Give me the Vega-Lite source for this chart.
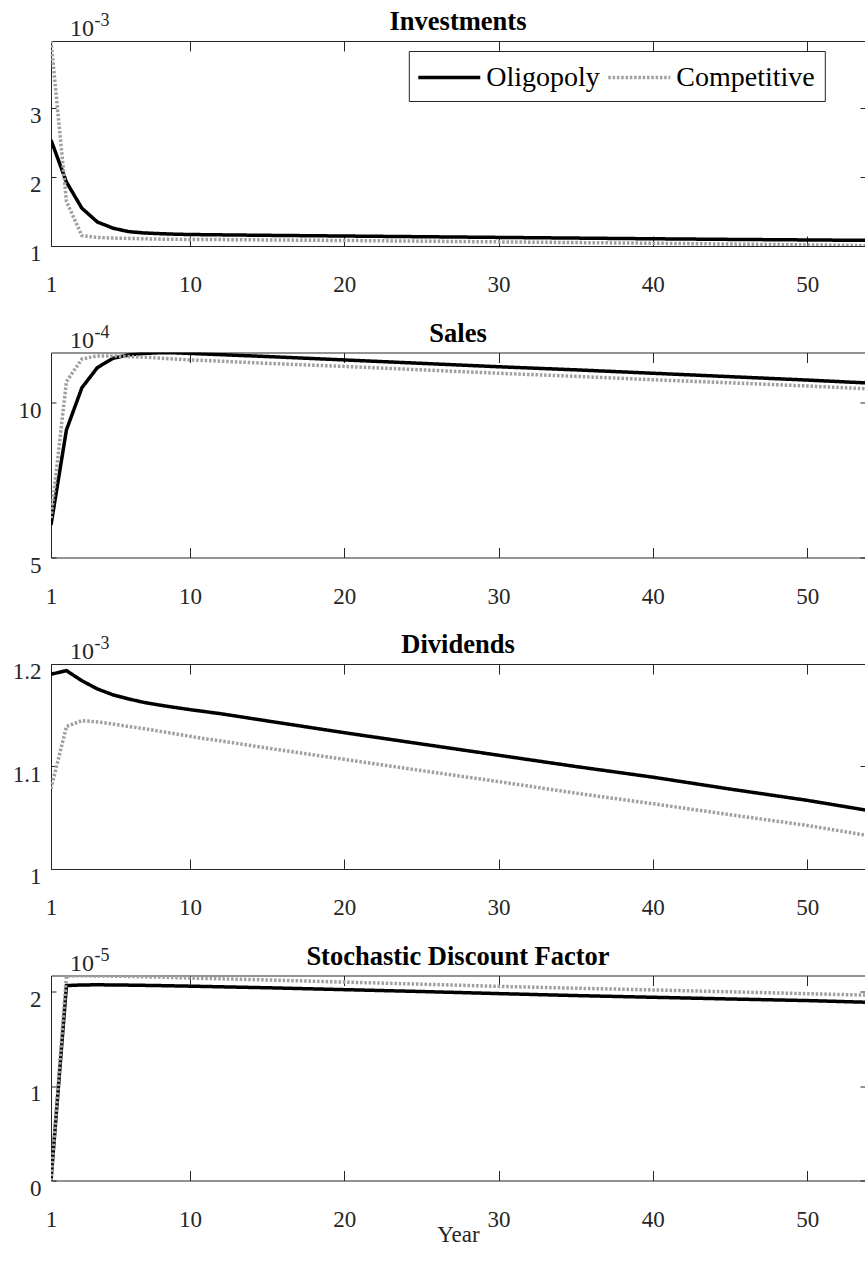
{
  "$schema": "https://vega.github.io/schema/vega-lite/v6.json",
  "background": "white",
  "padding": {"left": 12, "top": 9, "right": 0, "bottom": 5},
  "bounds": "flush",
  "spacing": 106.5,
  "config": {
    "view": {"stroke": null},
    "font": "Liberation Serif",
    "axis": {
      "labelFont": "Liberation Serif", "labelFontSize": 23, "labelColor": "#262626",
      "domainColor": "#262626", "tickColor": "#262626", "grid": false,
      "domainWidth": 1, "tickWidth": 1, "labelFlush": false, "labelOverlap": false,
      "titleFont": "Liberation Serif", "titleFontWeight": "normal", "titleColor": "#262626"
    },
    "title": {"font": "Liberation Serif", "fontSize": 26.5, "fontWeight": "bold", "color": "black", "baseline": "alphabetic", "offset": -24, "anchor": "middle"}
  },
  "datasets": {
    "d": [
      {"panel": "inv", "series": "Oligopoly", "year": 1, "value": 2.54},
      {"panel": "inv", "series": "Oligopoly", "year": 2, "value": 1.93},
      {"panel": "inv", "series": "Oligopoly", "year": 3, "value": 1.55},
      {"panel": "inv", "series": "Oligopoly", "year": 4, "value": 1.35},
      {"panel": "inv", "series": "Oligopoly", "year": 5, "value": 1.26},
      {"panel": "inv", "series": "Oligopoly", "year": 6, "value": 1.21},
      {"panel": "inv", "series": "Oligopoly", "year": 7, "value": 1.19},
      {"panel": "inv", "series": "Oligopoly", "year": 8, "value": 1.18},
      {"panel": "inv", "series": "Oligopoly", "year": 9, "value": 1.172},
      {"panel": "inv", "series": "Oligopoly", "year": 10, "value": 1.167},
      {"panel": "inv", "series": "Oligopoly", "year": 12, "value": 1.162},
      {"panel": "inv", "series": "Oligopoly", "year": 15, "value": 1.155},
      {"panel": "inv", "series": "Oligopoly", "year": 20, "value": 1.145},
      {"panel": "inv", "series": "Oligopoly", "year": 25, "value": 1.135},
      {"panel": "inv", "series": "Oligopoly", "year": 30, "value": 1.125},
      {"panel": "inv", "series": "Oligopoly", "year": 35, "value": 1.115},
      {"panel": "inv", "series": "Oligopoly", "year": 40, "value": 1.105},
      {"panel": "inv", "series": "Oligopoly", "year": 45, "value": 1.096},
      {"panel": "inv", "series": "Oligopoly", "year": 50, "value": 1.088},
      {"panel": "inv", "series": "Oligopoly", "year": 55, "value": 1.08},
      {"panel": "inv", "series": "Competitive", "year": 1, "value": 3.98},
      {"panel": "inv", "series": "Competitive", "year": 2, "value": 1.65},
      {"panel": "inv", "series": "Competitive", "year": 3, "value": 1.15},
      {"panel": "inv", "series": "Competitive", "year": 4, "value": 1.125},
      {"panel": "inv", "series": "Competitive", "year": 5, "value": 1.115},
      {"panel": "inv", "series": "Competitive", "year": 6, "value": 1.11},
      {"panel": "inv", "series": "Competitive", "year": 7, "value": 1.105},
      {"panel": "inv", "series": "Competitive", "year": 8, "value": 1.1},
      {"panel": "inv", "series": "Competitive", "year": 10, "value": 1.095},
      {"panel": "inv", "series": "Competitive", "year": 12, "value": 1.093},
      {"panel": "inv", "series": "Competitive", "year": 15, "value": 1.088},
      {"panel": "inv", "series": "Competitive", "year": 20, "value": 1.08},
      {"panel": "inv", "series": "Competitive", "year": 25, "value": 1.07},
      {"panel": "inv", "series": "Competitive", "year": 30, "value": 1.06},
      {"panel": "inv", "series": "Competitive", "year": 35, "value": 1.05},
      {"panel": "inv", "series": "Competitive", "year": 40, "value": 1.04},
      {"panel": "inv", "series": "Competitive", "year": 45, "value": 1.028},
      {"panel": "inv", "series": "Competitive", "year": 50, "value": 1.016},
      {"panel": "inv", "series": "Competitive", "year": 55, "value": 1.004},

      {"panel": "sales", "series": "Oligopoly", "year": 1, "value": 6.05},
      {"panel": "sales", "series": "Oligopoly", "year": 2, "value": 9.12},
      {"panel": "sales", "series": "Oligopoly", "year": 3, "value": 10.48},
      {"panel": "sales", "series": "Oligopoly", "year": 4, "value": 11.13},
      {"panel": "sales", "series": "Oligopoly", "year": 5, "value": 11.43},
      {"panel": "sales", "series": "Oligopoly", "year": 6, "value": 11.54},
      {"panel": "sales", "series": "Oligopoly", "year": 7, "value": 11.59},
      {"panel": "sales", "series": "Oligopoly", "year": 8, "value": 11.61},
      {"panel": "sales", "series": "Oligopoly", "year": 9, "value": 11.61},
      {"panel": "sales", "series": "Oligopoly", "year": 10, "value": 11.59},
      {"panel": "sales", "series": "Oligopoly", "year": 12, "value": 11.55},
      {"panel": "sales", "series": "Oligopoly", "year": 15, "value": 11.49},
      {"panel": "sales", "series": "Oligopoly", "year": 20, "value": 11.38},
      {"panel": "sales", "series": "Oligopoly", "year": 25, "value": 11.27},
      {"panel": "sales", "series": "Oligopoly", "year": 30, "value": 11.16},
      {"panel": "sales", "series": "Oligopoly", "year": 35, "value": 11.06},
      {"panel": "sales", "series": "Oligopoly", "year": 40, "value": 10.95},
      {"panel": "sales", "series": "Oligopoly", "year": 45, "value": 10.84},
      {"panel": "sales", "series": "Oligopoly", "year": 50, "value": 10.73},
      {"panel": "sales", "series": "Oligopoly", "year": 55, "value": 10.61},
      {"panel": "sales", "series": "Competitive", "year": 1, "value": 6.27},
      {"panel": "sales", "series": "Competitive", "year": 2, "value": 10.68},
      {"panel": "sales", "series": "Competitive", "year": 3, "value": 11.41},
      {"panel": "sales", "series": "Competitive", "year": 4, "value": 11.51},
      {"panel": "sales", "series": "Competitive", "year": 5, "value": 11.51},
      {"panel": "sales", "series": "Competitive", "year": 6, "value": 11.49},
      {"panel": "sales", "series": "Competitive", "year": 7, "value": 11.47},
      {"panel": "sales", "series": "Competitive", "year": 8, "value": 11.44},
      {"panel": "sales", "series": "Competitive", "year": 9, "value": 11.41},
      {"panel": "sales", "series": "Competitive", "year": 10, "value": 11.38},
      {"panel": "sales", "series": "Competitive", "year": 12, "value": 11.34},
      {"panel": "sales", "series": "Competitive", "year": 15, "value": 11.27},
      {"panel": "sales", "series": "Competitive", "year": 20, "value": 11.17},
      {"panel": "sales", "series": "Competitive", "year": 25, "value": 11.06},
      {"panel": "sales", "series": "Competitive", "year": 30, "value": 10.95},
      {"panel": "sales", "series": "Competitive", "year": 35, "value": 10.85},
      {"panel": "sales", "series": "Competitive", "year": 40, "value": 10.74},
      {"panel": "sales", "series": "Competitive", "year": 45, "value": 10.64},
      {"panel": "sales", "series": "Competitive", "year": 50, "value": 10.54},
      {"panel": "sales", "series": "Competitive", "year": 55, "value": 10.42},

      {"panel": "div", "series": "Oligopoly", "year": 1, "value": 1.19},
      {"panel": "div", "series": "Oligopoly", "year": 2, "value": 1.1935},
      {"panel": "div", "series": "Oligopoly", "year": 3, "value": 1.1837},
      {"panel": "div", "series": "Oligopoly", "year": 4, "value": 1.1757},
      {"panel": "div", "series": "Oligopoly", "year": 5, "value": 1.17},
      {"panel": "div", "series": "Oligopoly", "year": 6, "value": 1.166},
      {"panel": "div", "series": "Oligopoly", "year": 7, "value": 1.1626},
      {"panel": "div", "series": "Oligopoly", "year": 8, "value": 1.16},
      {"panel": "div", "series": "Oligopoly", "year": 9, "value": 1.1577},
      {"panel": "div", "series": "Oligopoly", "year": 10, "value": 1.1555},
      {"panel": "div", "series": "Oligopoly", "year": 11, "value": 1.1535},
      {"panel": "div", "series": "Oligopoly", "year": 12, "value": 1.1515},
      {"panel": "div", "series": "Oligopoly", "year": 15, "value": 1.1445},
      {"panel": "div", "series": "Oligopoly", "year": 20, "value": 1.133},
      {"panel": "div", "series": "Oligopoly", "year": 25, "value": 1.122},
      {"panel": "div", "series": "Oligopoly", "year": 30, "value": 1.111},
      {"panel": "div", "series": "Oligopoly", "year": 35, "value": 1.1},
      {"panel": "div", "series": "Oligopoly", "year": 40, "value": 1.0896},
      {"panel": "div", "series": "Oligopoly", "year": 45, "value": 1.078},
      {"panel": "div", "series": "Oligopoly", "year": 50, "value": 1.067},
      {"panel": "div", "series": "Oligopoly", "year": 55, "value": 1.0545},
      {"panel": "div", "series": "Competitive", "year": 1, "value": 1.0783},
      {"panel": "div", "series": "Competitive", "year": 2, "value": 1.139},
      {"panel": "div", "series": "Competitive", "year": 3, "value": 1.1448},
      {"panel": "div", "series": "Competitive", "year": 4, "value": 1.1435},
      {"panel": "div", "series": "Competitive", "year": 5, "value": 1.1415},
      {"panel": "div", "series": "Competitive", "year": 6, "value": 1.139},
      {"panel": "div", "series": "Competitive", "year": 7, "value": 1.137},
      {"panel": "div", "series": "Competitive", "year": 8, "value": 1.1345},
      {"panel": "div", "series": "Competitive", "year": 9, "value": 1.132},
      {"panel": "div", "series": "Competitive", "year": 10, "value": 1.1295},
      {"panel": "div", "series": "Competitive", "year": 11, "value": 1.127},
      {"panel": "div", "series": "Competitive", "year": 12, "value": 1.125},
      {"panel": "div", "series": "Competitive", "year": 15, "value": 1.118},
      {"panel": "div", "series": "Competitive", "year": 20, "value": 1.107},
      {"panel": "div", "series": "Competitive", "year": 25, "value": 1.096},
      {"panel": "div", "series": "Competitive", "year": 30, "value": 1.0853},
      {"panel": "div", "series": "Competitive", "year": 35, "value": 1.074},
      {"panel": "div", "series": "Competitive", "year": 40, "value": 1.0637},
      {"panel": "div", "series": "Competitive", "year": 45, "value": 1.053},
      {"panel": "div", "series": "Competitive", "year": 50, "value": 1.0425},
      {"panel": "div", "series": "Competitive", "year": 55, "value": 1.03},

      {"panel": "sdf", "series": "Oligopoly", "year": 1, "value": 0},
      {"panel": "sdf", "series": "Oligopoly", "year": 2, "value": 2.068},
      {"panel": "sdf", "series": "Oligopoly", "year": 3, "value": 2.075},
      {"panel": "sdf", "series": "Oligopoly", "year": 4, "value": 2.076},
      {"panel": "sdf", "series": "Oligopoly", "year": 5, "value": 2.075},
      {"panel": "sdf", "series": "Oligopoly", "year": 6, "value": 2.073},
      {"panel": "sdf", "series": "Oligopoly", "year": 8, "value": 2.068},
      {"panel": "sdf", "series": "Oligopoly", "year": 10, "value": 2.062},
      {"panel": "sdf", "series": "Oligopoly", "year": 12, "value": 2.055},
      {"panel": "sdf", "series": "Oligopoly", "year": 15, "value": 2.045},
      {"panel": "sdf", "series": "Oligopoly", "year": 20, "value": 2.025},
      {"panel": "sdf", "series": "Oligopoly", "year": 25, "value": 2.005},
      {"panel": "sdf", "series": "Oligopoly", "year": 30, "value": 1.983},
      {"panel": "sdf", "series": "Oligopoly", "year": 35, "value": 1.962},
      {"panel": "sdf", "series": "Oligopoly", "year": 40, "value": 1.944},
      {"panel": "sdf", "series": "Oligopoly", "year": 45, "value": 1.926},
      {"panel": "sdf", "series": "Oligopoly", "year": 50, "value": 1.909},
      {"panel": "sdf", "series": "Oligopoly", "year": 55, "value": 1.886},
      {"panel": "sdf", "series": "Competitive", "year": 1, "value": 0},
      {"panel": "sdf", "series": "Competitive", "year": 2, "value": 2.17},
      {"panel": "sdf", "series": "Competitive", "year": 3, "value": 2.172},
      {"panel": "sdf", "series": "Competitive", "year": 4, "value": 2.17},
      {"panel": "sdf", "series": "Competitive", "year": 5, "value": 2.168},
      {"panel": "sdf", "series": "Competitive", "year": 6, "value": 2.165},
      {"panel": "sdf", "series": "Competitive", "year": 8, "value": 2.158},
      {"panel": "sdf", "series": "Competitive", "year": 10, "value": 2.148},
      {"panel": "sdf", "series": "Competitive", "year": 12, "value": 2.14},
      {"panel": "sdf", "series": "Competitive", "year": 15, "value": 2.128},
      {"panel": "sdf", "series": "Competitive", "year": 20, "value": 2.105},
      {"panel": "sdf", "series": "Competitive", "year": 25, "value": 2.083},
      {"panel": "sdf", "series": "Competitive", "year": 30, "value": 2.06},
      {"panel": "sdf", "series": "Competitive", "year": 35, "value": 2.04},
      {"panel": "sdf", "series": "Competitive", "year": 40, "value": 2.022},
      {"panel": "sdf", "series": "Competitive", "year": 45, "value": 2.002},
      {"panel": "sdf", "series": "Competitive", "year": 50, "value": 1.982},
      {"panel": "sdf", "series": "Competitive", "year": 55, "value": 1.962}
    ]
  },
  "data": {"name": "d"},
  "resolve": {"scale": {"x": "independent", "y": "independent", "color": "independent", "strokeDash": "independent"}, "legend": {"color": "independent", "strokeDash": "independent"}},
  "vconcat": [
    {
      "width": 814, "height": 205,
      "title": "Investments",
      "transform": [{"filter": "datum.panel === 'inv'"}],
      "layer": [
        {
          "transform": [{"filter": "datum.series === 'Oligopoly'"}],
          "mark": {"type": "line", "clip": true, "strokeWidth": 3.5},
          "encoding": {
            "x": {"field": "year", "type": "quantitative", "scale": {"domain": [1, 53.75], "nice": false, "zero": false},
                  "axis": {"orient": "bottom", "values": [1, 10, 20, 30, 40, 50], "labelExpr": "'' + datum.value", "tickSize": -10, "labelPadding": 37.8, "title": null, "labelFont": "Liberation Serif", "labelFontSize": 23, "labelColor": "#262626", "labelFlush": false}},
            "y": {"field": "value", "type": "quantitative", "scale": {"domain": [1, 3.98], "nice": false, "zero": false},
                  "axis": {"orient": "left", "values": [1, 2, 3], "labelExpr": "'' + datum.value", "tickSize": -5, "labelPadding": 15, "labelBaseline": "middle", "labelOffset": 7.5, "labelFont": "Liberation Serif", "labelFontSize": 23, "labelColor": "#262626",
                           "title": "10", "titleFont": "Liberation Serif", "titleFontWeight": "normal", "titleColor": "#262626", "titleAngle": 0, "titleX": 18.5, "titleY": -5.5, "titleAlign": "left", "titleBaseline": "alphabetic", "titleFontSize": 24}},
            "color": {"field": "series", "type": "nominal", "scale": {"domain": ["Oligopoly", "Competitive"], "range": ["#000000", "#a0a0a0"]},
                      "legend": {"orient": "none", "legendX": 357.8, "legendY": 10, "direction": "horizontal", "title": null, "symbolType": "M-1.115,0H2.95", "symbolSize": 930, "symbolStrokeWidth": 3.5, "labelFont": "Liberation Serif", "labelFontSize": 28, "labelColor": "black", "labelOffset": 34, "columnPadding": 0, "padding": 9.5, "strokeColor": "#262626", "fillColor": "white", "labelLimit": 400}},
            "strokeDash": {"field": "series", "type": "nominal", "scale": {"domain": ["Oligopoly", "Competitive"], "range": [[1, 0], [2.5, 1.8]]},
                      "legend": {"orient": "none", "legendX": 357.8, "legendY": 10, "direction": "horizontal", "title": null, "symbolType": "M-1.115,0H2.95", "symbolSize": 930, "symbolStrokeWidth": 3.5, "labelFont": "Liberation Serif", "labelFontSize": 28, "labelColor": "black", "labelOffset": 34, "columnPadding": 0, "padding": 9.5, "strokeColor": "#262626", "fillColor": "white", "labelLimit": 400}}
          }
        },
        {
          "transform": [{"filter": "datum.series === 'Competitive'"}],
          "mark": {"type": "line", "clip": true, "strokeWidth": 3.5},
          "encoding": {
            "x": {"field": "year", "type": "quantitative", "axis": {"orient": "top", "values": [1, 10, 20, 30, 40, 50], "tickSize": -10, "labels": false, "title": null}},
            "y": {"field": "value", "type": "quantitative", "axis": {"orient": "right", "values": [1, 2, 3], "tickSize": -5, "labels": false, "domain": false,
                  "title": "-3", "titleFont": "Liberation Serif", "titleFontWeight": "normal", "titleColor": "#262626", "titleAngle": 0, "titleX": -771, "titleY": -15.5, "titleAlign": "left", "titleBaseline": "alphabetic", "titleFontSize": 18}},
            "color": {"field": "series", "type": "nominal"},
            "strokeDash": {"field": "series", "type": "nominal"}
          }
        }
      ],
      "resolve": {"axis": {"x": "independent", "y": "independent"}}
    },
    {
      "width": 814, "height": 205,
      "title": "Sales",
      "transform": [{"filter": "datum.panel === 'sales'"}],
      "layer": [
        {
          "transform": [{"filter": "datum.series === 'Oligopoly'"}],
          "mark": {"type": "line", "clip": true, "strokeWidth": 3.5},
          "encoding": {
            "x": {"field": "year", "type": "quantitative", "scale": {"domain": [1, 53.75], "nice": false, "zero": false},
                  "axis": {"orient": "bottom", "values": [1, 10, 20, 30, 40, 50], "labelExpr": "'' + datum.value", "tickSize": -10, "labelPadding": 37.8, "title": null, "labelFont": "Liberation Serif", "labelFontSize": 23, "labelColor": "#262626", "labelFlush": false}},
            "y": {"field": "value", "type": "quantitative", "scale": {"domain": [5, 11.62], "nice": false, "zero": false},
                  "axis": {"orient": "left", "values": [5, 10], "labelExpr": "'' + datum.value", "tickSize": -5, "labelPadding": 15, "labelBaseline": "middle", "labelOffset": 7.5, "labelFont": "Liberation Serif", "labelFontSize": 23, "labelColor": "#262626",
                           "title": "10", "titleFont": "Liberation Serif", "titleFontWeight": "normal", "titleColor": "#262626", "titleAngle": 0, "titleX": 18.5, "titleY": -5.5, "titleAlign": "left", "titleBaseline": "alphabetic", "titleFontSize": 24}},
            "color": {"field": "series", "type": "nominal", "scale": {"domain": ["Oligopoly", "Competitive"], "range": ["#000000", "#a0a0a0"]}, "legend": null},
            "strokeDash": {"field": "series", "type": "nominal", "scale": {"domain": ["Oligopoly", "Competitive"], "range": [[1, 0], [2.5, 1.8]]}, "legend": null}
          }
        },
        {
          "transform": [{"filter": "datum.series === 'Competitive'"}],
          "mark": {"type": "line", "clip": true, "strokeWidth": 3.5},
          "encoding": {
            "x": {"field": "year", "type": "quantitative", "axis": {"orient": "top", "values": [1, 10, 20, 30, 40, 50], "tickSize": -10, "labels": false, "title": null}},
            "y": {"field": "value", "type": "quantitative", "axis": {"orient": "right", "values": [5, 10], "tickSize": -5, "labels": false, "domain": false,
                  "title": "-4", "titleFont": "Liberation Serif", "titleFontWeight": "normal", "titleColor": "#262626", "titleAngle": 0, "titleX": -771, "titleY": -15.5, "titleAlign": "left", "titleBaseline": "alphabetic", "titleFontSize": 18}},
            "color": {"field": "series", "type": "nominal", "legend": null},
            "strokeDash": {"field": "series", "type": "nominal", "legend": null}
          }
        }
      ],
      "resolve": {"axis": {"x": "independent", "y": "independent"}}
    },
    {
      "width": 814, "height": 205,
      "title": "Dividends",
      "transform": [{"filter": "datum.panel === 'div'"}],
      "layer": [
        {
          "transform": [{"filter": "datum.series === 'Oligopoly'"}],
          "mark": {"type": "line", "clip": true, "strokeWidth": 3.5},
          "encoding": {
            "x": {"field": "year", "type": "quantitative", "scale": {"domain": [1, 53.75], "nice": false, "zero": false},
                  "axis": {"orient": "bottom", "values": [1, 10, 20, 30, 40, 50], "labelExpr": "'' + datum.value", "tickSize": -10, "labelPadding": 37.8, "title": null, "labelFont": "Liberation Serif", "labelFontSize": 23, "labelColor": "#262626", "labelFlush": false}},
            "y": {"field": "value", "type": "quantitative", "scale": {"domain": [1, 1.2], "nice": false, "zero": false},
                  "axis": {"orient": "left", "values": [1, 1.1, 1.2], "labelExpr": "'' + datum.value", "tickSize": -5, "labelPadding": 15, "labelBaseline": "middle", "labelOffset": 7.5, "labelFont": "Liberation Serif", "labelFontSize": 23, "labelColor": "#262626",
                           "title": "10", "titleFont": "Liberation Serif", "titleFontWeight": "normal", "titleColor": "#262626", "titleAngle": 0, "titleX": 18.5, "titleY": -5.5, "titleAlign": "left", "titleBaseline": "alphabetic", "titleFontSize": 24}},
            "color": {"field": "series", "type": "nominal", "scale": {"domain": ["Oligopoly", "Competitive"], "range": ["#000000", "#a0a0a0"]}, "legend": null},
            "strokeDash": {"field": "series", "type": "nominal", "scale": {"domain": ["Oligopoly", "Competitive"], "range": [[1, 0], [2.5, 1.8]]}, "legend": null}
          }
        },
        {
          "transform": [{"filter": "datum.series === 'Competitive'"}],
          "mark": {"type": "line", "clip": true, "strokeWidth": 3.5},
          "encoding": {
            "x": {"field": "year", "type": "quantitative", "axis": {"orient": "top", "values": [1, 10, 20, 30, 40, 50], "tickSize": -10, "labels": false, "title": null}},
            "y": {"field": "value", "type": "quantitative", "axis": {"orient": "right", "values": [1, 1.1, 1.2], "tickSize": -5, "labels": false, "domain": false,
                  "title": "-3", "titleFont": "Liberation Serif", "titleFontWeight": "normal", "titleColor": "#262626", "titleAngle": 0, "titleX": -771, "titleY": -15.5, "titleAlign": "left", "titleBaseline": "alphabetic", "titleFontSize": 18}},
            "color": {"field": "series", "type": "nominal", "legend": null},
            "strokeDash": {"field": "series", "type": "nominal", "legend": null}
          }
        }
      ],
      "resolve": {"axis": {"x": "independent", "y": "independent"}}
    },
    {
      "width": 814, "height": 205,
      "title": "Stochastic Discount Factor",
      "transform": [{"filter": "datum.panel === 'sdf'"}],
      "layer": [
        {
          "transform": [{"filter": "datum.series === 'Oligopoly'"}],
          "mark": {"type": "line", "clip": true, "strokeWidth": 3.5},
          "encoding": {
            "x": {"field": "year", "type": "quantitative", "scale": {"domain": [1, 53.75], "nice": false, "zero": false},
                  "axis": {"orient": "bottom", "values": [1, 10, 20, 30, 40, 50], "labelExpr": "'' + datum.value", "tickSize": -10, "labelPadding": 37.8, "labelFont": "Liberation Serif", "labelFontSize": 23, "labelColor": "#262626", "labelFlush": false,
                           "title": "Year", "titleFont": "Liberation Serif", "titleFontWeight": "normal", "titleColor": "#262626", "titleFontSize": 23, "titleY": 61, "titleBaseline": "alphabetic"}},
            "y": {"field": "value", "type": "quantitative", "scale": {"domain": [0, 2.175], "nice": false, "zero": false},
                  "axis": {"orient": "left", "values": [0, 1, 2], "labelExpr": "'' + datum.value", "tickSize": -5, "labelPadding": 15, "labelBaseline": "middle", "labelOffset": 7.5, "labelFont": "Liberation Serif", "labelFontSize": 23, "labelColor": "#262626",
                           "title": "10", "titleFont": "Liberation Serif", "titleFontWeight": "normal", "titleColor": "#262626", "titleAngle": 0, "titleX": 18.5, "titleY": -5.5, "titleAlign": "left", "titleBaseline": "alphabetic", "titleFontSize": 24}},
            "color": {"field": "series", "type": "nominal", "scale": {"domain": ["Oligopoly", "Competitive"], "range": ["#000000", "#a0a0a0"]}, "legend": null},
            "strokeDash": {"field": "series", "type": "nominal", "scale": {"domain": ["Oligopoly", "Competitive"], "range": [[1, 0], [2.5, 1.8]]}, "legend": null}
          }
        },
        {
          "transform": [{"filter": "datum.series === 'Competitive'"}],
          "mark": {"type": "line", "clip": true, "strokeWidth": 3.5},
          "encoding": {
            "x": {"field": "year", "type": "quantitative", "axis": {"orient": "top", "values": [1, 10, 20, 30, 40, 50], "tickSize": -10, "labels": false, "title": null}},
            "y": {"field": "value", "type": "quantitative", "axis": {"orient": "right", "values": [0, 1, 2], "tickSize": -5, "labels": false, "domain": false,
                  "title": "-5", "titleFont": "Liberation Serif", "titleFontWeight": "normal", "titleColor": "#262626", "titleAngle": 0, "titleX": -771, "titleY": -15.5, "titleAlign": "left", "titleBaseline": "alphabetic", "titleFontSize": 18}},
            "color": {"field": "series", "type": "nominal", "legend": null},
            "strokeDash": {"field": "series", "type": "nominal", "legend": null}
          }
        }
      ],
      "resolve": {"axis": {"x": "independent", "y": "independent"}}
    }
  ]
}
